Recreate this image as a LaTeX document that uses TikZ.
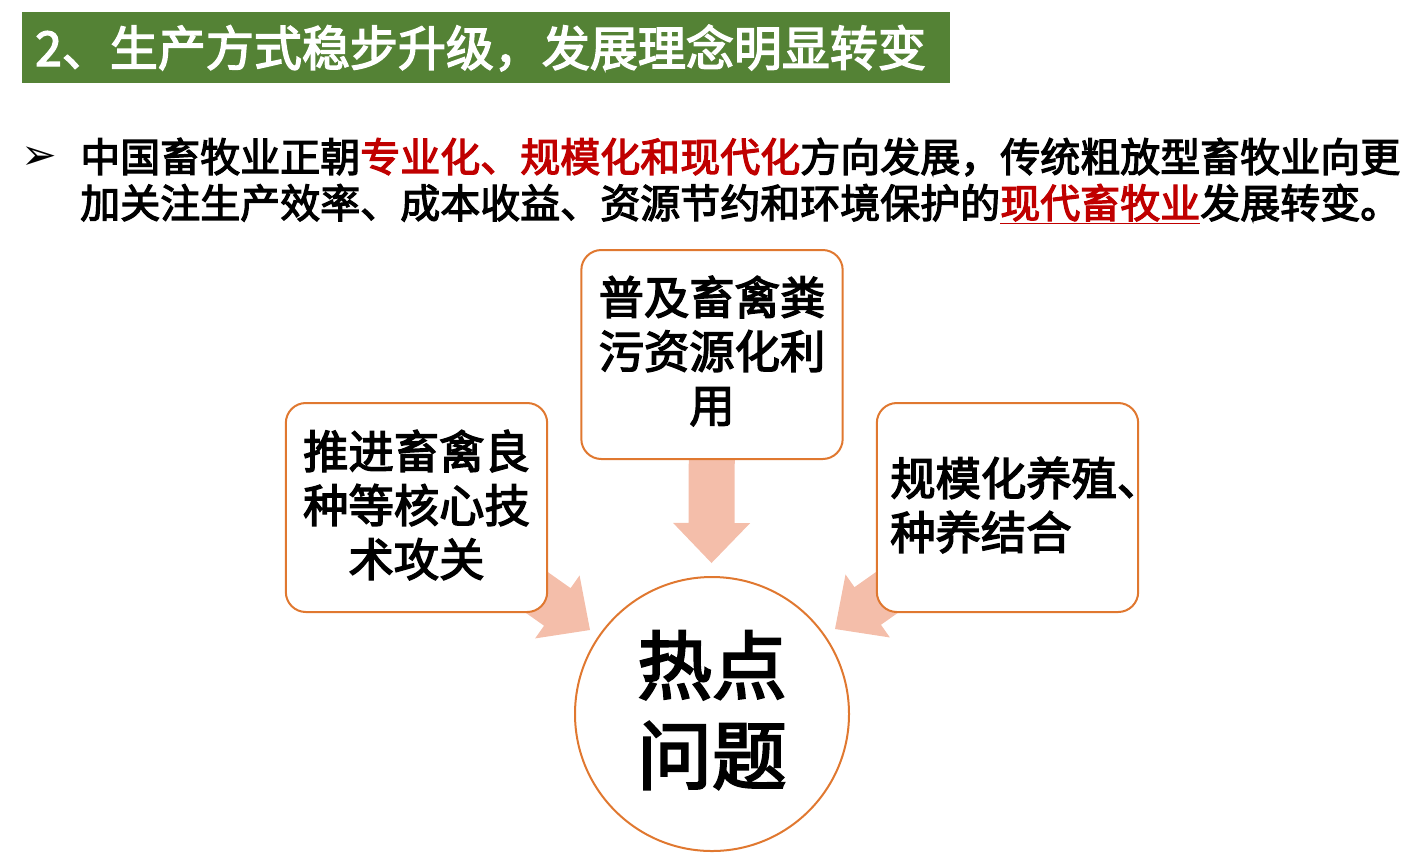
\documentclass[tikz,border=0pt]{standalone}
\usepackage{fontspec}
\setmainfont{Noto Sans CJK SC}
\newfontfamily\semibold[FakeBold=3]{Noto Sans CJK SC}
\newfontfamily\dvsans{DejaVu Sans}
\usetikzlibrary{calc,backgrounds}
\definecolor{bannergreen}{HTML}{548235}
\definecolor{boxorange}{HTML}{E07830}
\definecolor{arrowpink}{HTML}{F4BEAA}
\definecolor{hlred}{HTML}{C00000}
\tikzset{
  roundbox/.style={draw=boxorange, line width=1.5pt, fill=white, rounded corners=15pt,
    minimum width=196pt, minimum height=156.75pt, inner sep=0pt},
  boxtext/.style={font=\semibold\fontsize{34}{40.5}\selectfont, inner sep=0pt},
  bodytext/.style={font=\semibold\fontsize{30}{35}\selectfont, inner sep=0pt, anchor=west},
  arrowfill/.style={fill=arrowpink}
}
\newcommand\blockarrow[2]{%
  \coordinate (ba-b) at ($(#2)!30pt!(#1)$);
  \fill[arrowfill] ($(#1)!17.25pt!90:(#2)$) -- ($(ba-b)!17.25pt!-90:(#1)$)
    -- ($(ba-b)!28.9pt!-90:(#1)$) -- (#2) -- ($(ba-b)!28.9pt!90:(#1)$)
    -- ($(ba-b)!17.25pt!90:(#1)$) -- ($(#1)!17.25pt!-90:(#2)$) -- cycle;}
\begin{document}
\begin{tikzpicture}[x=0.75pt,y=-0.75pt]
\useasboundingbox (0,0) rectangle (1426,858);
% banner
\node (banner) [fill=bannergreen, anchor=north west, minimum width=696pt, minimum height=53.25pt, inner sep=0pt] at (22,12) {};
\node (title) [anchor=west, text=white, inner sep=0pt, font=\semibold\fontsize{36}{40}\selectfont] at (35,48) {2、生产方式稳步升级，发展理念明显转变};
% bullet text
\node (bullet) [inner sep=0pt, font=\dvsans\fontsize{32}{34}\selectfont] at (39,158) {➢};
\node (line1) [bodytext] at (80,157) {中国畜牧业正朝\textcolor{hlred}{专业化、规模化和现代化}方向发展，传统粗放型畜牧业向更};
\node (line2) [bodytext] at (80,204) {加关注生产效率、成本收益、资源节约和环境保护的\textcolor{hlred}{\underline{现代畜牧业}}发展转变。};
% boxes
\node (topbox) [roundbox, align=center] at (712,354.5) {};
\node (toptext) [boxtext, align=center] at (712,351) {普及畜禽粪\\污资源化利\\用};
\node (leftbox) [roundbox] at (416.5,507.5) {};
\node (lefttext) [boxtext, align=center] at (416.5,505) {推进畜禽良\\种等核心技\\术攻关};
\node (rightbox) [roundbox] at (1007.5,507.5) {};
\node (righttext) [boxtext, align=left, anchor=west] at (890,505) {规模化养殖、\\种养结合};
% circle
\node (circ) [circle, draw=boxorange, line width=1.5pt, minimum size=205.5pt, inner sep=0pt] at (712,714) {};
\node (circtext) [inner sep=0pt, align=center, font=\semibold\fontsize{56}{67.5}\selectfont] at (712,710) {热点\\问题};
% arrows
\coordinate (tipdown) at (711.5,563);
\coordinate (tipleft) at (590,630);
\coordinate (tipright) at (835,629);
\begin{scope}[on background layer]
\blockarrow{topbox.center}{tipdown}
\blockarrow{leftbox.center}{tipleft}
\blockarrow{rightbox.center}{tipright}
\end{scope}
\end{tikzpicture}
\end{document}
